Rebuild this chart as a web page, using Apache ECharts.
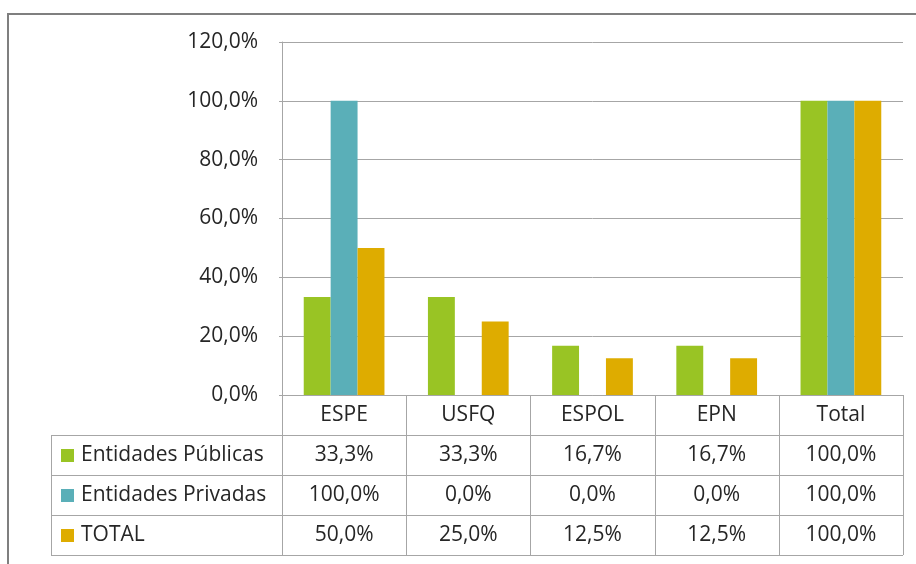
<!DOCTYPE html>
<html><head><meta charset="utf-8">
<script src="https://cdn.jsdelivr.net/npm/echarts@6/dist/echarts.min.js"></script>
<style>html,body{margin:0;padding:0;background:#fff}#c{width:916px;height:564px}</style>
</head><body><div id="c"></div>
<script>
const categories = ['ESPE', 'USFQ', 'ESPOL', 'EPN', 'Total'];
const seriesNames = ['Entidades Públicas', 'Entidades Privadas', 'TOTAL'];
const publicas = [33.3, 33.3, 16.7, 16.7, 100.0];
const privadas = [100.0, 0.0, 0.0, 0.0, 100.0];
const total = [50.0, 25.0, 12.5, 12.5, 100.0];
const colors = ['#99c424', '#5aafb8', '#deac00'];
const seriesValues = [publicas, privadas, total];

const FONT = 'Open Sans';
const FS = 21;
const TXT = '#262626';
const LINE = '#a6a6a6';
const fmt = v => v.toFixed(1).replace('.', ',') + '%';

const chart = echarts.init(document.getElementById('c'), null, {renderer: 'canvas'});
const option = {
  animation: false,
  textStyle: {fontFamily: FONT},
  grid: {left: 282, right: 13, top: 42, bottom: 169, containLabel: false},
  xAxis: {
    type: 'category', data: categories,
    axisLine: {show: true, lineStyle: {color: LINE, width: 1}},
    axisTick: {show: false},
    axisLabel: {color: TXT, fontSize: FS, fontFamily: FONT, margin: 10}
  },
  yAxis: {
    type: 'value', min: 0, max: 120, interval: 20,
    axisLine: {show: true, lineStyle: {color: LINE}},
    axisTick: {show: true, length: 3, lineStyle: {color: LINE}},
    splitLine: {show: true, lineStyle: {color: LINE, width: 1}},
    axisLabel: {color: TXT, fontSize: FS, fontFamily: FONT, margin: 24, formatter: v => fmt(v)}
  },
  series: seriesNames.map((n, i) => ({
    name: n, type: 'bar', data: seriesValues[i],
    barGap: '0%', barCategoryGap: '35%',
    itemStyle: {color: colors[i]}
  }))
};
chart.setOption(option);

// build table graphics from data
const c0 = chart.convertToPixel({xAxisIndex: 0}, 0);
const c1 = chart.convertToPixel({xAxisIndex: 0}, 1);
const band = c1 - c0;
const gridBottom = 564 - 169;
const tableLeft = 51;
const rowTops = [gridBottom + 40, gridBottom + 80, gridBottom + 120];
const rowH = 40;
const tableBottom = rowTops[2] + rowH;
const tableRight = c0 - band / 2 + band * categories.length;
const els = [];
const ls = {stroke: LINE, lineWidth: 1};
els.push({type: 'rect', shape: {x: 8, y: 14, width: 920, height: 560}, style: {fill: null, stroke: '#7f7f7f', lineWidth: 2}, z: 10});
rowTops.concat([tableBottom]).forEach(y => {
  els.push({type: 'line', shape: {x1: tableLeft, y1: y + 0.5, x2: tableRight, y2: y + 0.5}, style: ls});
});
for (let i = 0; i <= categories.length; i++) {
  const x = Math.round(c0 - band / 2 + band * i) + 0.5;
  els.push({type: 'line', shape: {x1: x, y1: gridBottom, x2: x, y2: tableBottom}, style: ls});
}
els.push({type: 'line', shape: {x1: tableLeft + 0.5, y1: rowTops[0], x2: tableLeft + 0.5, y2: tableBottom}, style: ls});
seriesNames.forEach((n, r) => {
  const cy = rowTops[r] + rowH / 2;
  els.push({type: 'rect', shape: {x: 61, y: cy - 6, width: 13, height: 13}, style: {fill: colors[r]}});
  els.push({type: 'text', x: 81, y: cy, style: {text: n, fontSize: FS, fontFamily: FONT, fill: TXT, verticalAlign: 'middle', align: 'left'}});
  seriesValues[r].forEach((v, i) => {
    const cx = c0 + band * i;
    els.push({type: 'text', x: cx, y: cy, style: {text: fmt(v), fontSize: FS, fontFamily: FONT, fill: TXT, verticalAlign: 'middle', align: 'center'}});
  });
});
chart.setOption({graphic: {elements: els}});
</script>
</body></html>
